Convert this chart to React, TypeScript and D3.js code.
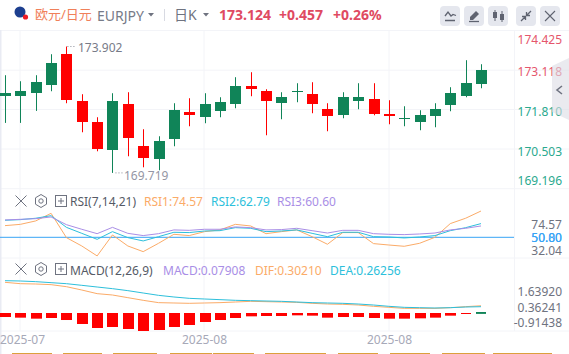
import React from "react";
import * as d3 from "d3";

const opens = [172.257,172.257,172.356,172.621,173.647,172.091,171.396,170.468,171.991,170.601,170.170,170.833,171.727,171.561,171.760,171.992,172.588,172.422,172.025,172.389,172.323,171.826,171.627,172.091,172.157,171.660,171.495,171.396,171.594,171.959,172.257,172.654];
const closes = [172.356,172.422,172.720,173.349,172.124,171.396,170.502,172.091,170.866,170.203,170.766,171.793,171.627,171.992,172.058,172.588,172.488,172.091,172.223,172.422,171.992,171.594,172.223,172.223,171.660,171.594,171.528,171.627,171.826,172.356,172.687,173.124];
const highs = [172.952,172.753,172.952,173.647,173.902,172.323,171.561,172.356,172.389,171.164,170.932,172.025,172.190,172.356,172.223,172.886,173.051,172.488,172.389,172.687,172.720,172.025,172.389,172.687,172.687,172.124,171.925,171.793,172.025,172.555,173.449,173.316];
const lows = [171.374,171.374,171.771,172.422,172.025,171.064,170.435,169.719,170.270,169.905,169.806,170.601,171.263,171.363,171.561,171.859,172.257,170.965,171.495,172.058,171.694,171.098,171.528,171.826,171.627,171.329,171.263,171.131,171.230,171.760,172.223,172.521];
const rsi1 = [60.9,62.1,65.3,72.4,49.7,41.9,32.6,52.2,41.9,36.6,44.4,52.8,51.6,55.3,56.9,62.1,60.6,53.4,55.3,56.9,50.6,43.5,54.4,54.4,44.1,42.8,41.6,44.4,50,62.8,67.8,74.57];
const rsi2 = [65.9,66.5,67.8,70.2,59.3,53.7,48.1,55.3,49.7,46.6,50.6,54.7,54.4,55.9,56.2,59.0,58.4,55.3,55.9,56.9,53.7,50.6,54.7,54.7,50.6,50.3,49.4,50.3,51.6,56.2,59.0,62.79];
const rsi3 = [66.2,66.8,67.4,69.0,61.8,57.5,53.4,59.3,53.7,51.6,53.4,56.9,56.5,57.5,57.5,59.7,59.0,56.9,57.2,58.4,56.2,54.0,56.5,56.5,53.4,52.8,52.5,53.1,54.0,56.9,58.4,60.6];
const macdHist = [-.167,-.194,-.236,-.208,-.292,-.458,-.625,-.583,-.667,-.75,-.708,-.583,-.5,-.375,-.292,-.208,-.139,-.125,-.125,-.097,-.111,-.194,-.167,-.167,-.208,-.236,-.236,-.222,-.194,-.111,-.028,.07908];
const dea = [1.347,1.333,1.306,1.264,1.222,1.153,1.083,1.014,.931,.833,.736,.667,.611,.583,.556,.528,.514,.5,.486,.458,.431,.417,.403,.375,.333,.278,.236,.222,.208,.222,.25,.26256];
const dif = [1.278,1.222,1.208,1.181,1.097,.958,.806,.75,.639,.528,.431,.417,.403,.417,.431,.458,.486,.472,.458,.444,.403,.375,.361,.333,.278,.236,.194,.194,.194,.222,.264,.3021];

const priceTicks = ["174.425","173.118","171.810","170.503","169.196"];
const rsiTicks = ["74.57","50.80","50.00","32.04"];
const macdTicks = ["1.63920","0.36241","-0.91438"];
const dateLabels = ["2025-07","2025-08","2025-08"];

const FONT = `"Noto Sans","Noto Sans CJK SC",sans-serif`;
const UP = "#108458", DOWN = "#ff0000", GRID = "#f3f4f8";
const ORANGE = "#fbab68", CYAN = "#2dbfdb", PURPLE = "#a98ee6", BLUE = "#38a4f6";

const x = d3.scaleLinear().domain([0, 31]).range([5, 481]);
const yP = d3.scaleLinear().domain([169.196, 173.118]).range([188.7, 70.2]);
const yR = d3.scaleLinear().domain([50, 74.57]).range([237.3, 211]);
const yM = d3.scaleLinear().domain([0, 1]).range([313, 289]);
const idx = d3.range(32);
const lineOf = (vals: number[], y: d3.ScaleLinear<number, number>) =>
  d3.line<number>().x((_, i) => x(i)).y((v) => y(v))(vals) || "";

const Btn = ({ bx, children }: { bx: number; children: React.ReactNode }) => (
  <g transform={`translate(${bx},6)`}>
    <rect width={20} height={20} rx={4} fill="#e5e7ee" />
    {children}
  </g>
);

const PaneIcons = ({ cy }: { cy: number }) => (
  <g fill="none" stroke="#6f7380" strokeWidth={1}>
    <path d={`M15.5 ${cy - 5.5}L26.5 ${cy + 5.5}M26.5 ${cy - 5.5}L15.5 ${cy + 5.5}`} />
    <path d={`M41 ${cy - 6.5}L46.5 ${cy - 3.2}V${cy + 3.2}L41 ${cy + 6.5}L35.5 ${cy + 3.2}V${cy - 3.2}Z`} />
    <circle cx={41} cy={cy} r={2.2} />
    <rect x={55.5} y={cy - 5.5} width={11} height={11} />
    <path d={`M58 ${cy}H64M61 ${cy - 3}V${cy + 3}`} />
  </g>
);

const strips = [[12,52],[63,102],[113,157],[170,212],[213,254],[265,326],[338,378],[390,430],[442,485],[493,552]];

export default function App() {
  const priceY = [39, 71.5, 111.5, 151.5, 180];
  const priceC = ["#e5566c", "#e5566c", "#2aa98e", "#2aa98e", "#2aa98e"];
  return (
    <svg width={569} height={354} style={{ position: "absolute", left: 0, top: 0, background: "#fff", fontFamily: FONT }}>
      {/* grid */}
      <g stroke={GRID} strokeWidth={1}>
        {[30.5, 70.2, 109.5, 149, 188.7, 258, 331].map((g) => (
          <line key={g} x1={0} x2={569} y1={g} y2={g} />
        ))}
        {[20, 204, 389].map((g) => (
          <line key={g} x1={g} x2={g} y1={30} y2={331} />
        ))}
        <line x1={514.5} x2={514.5} y1={30} y2={331} />
      </g>
      <rect x={0} y={30} width={1.5} height={324} fill="#e9ebf3" />

      {/* candles */}
      {idx.map((i) => {
        const up = closes[i] >= opens[i];
        const c = up ? UP : DOWN;
        const top = Math.round(yP(Math.max(opens[i], closes[i])));
        const bot = Math.round(yP(Math.min(opens[i], closes[i])));
        const cx = Math.round(x(i));
        return (
          <g key={i} fill={c}>
            <rect x={cx} y={yP(highs[i])} width={1} height={yP(lows[i]) - yP(highs[i])} />
            <rect x={cx - 5} y={top} width={11} height={Math.max(1, bot - top)} />
          </g>
        );
      })}
      <path d={`M${x(4) + 1} ${yP(173.902)}H76`} stroke="#8a8d99" strokeDasharray="1 2" />
      <text x={78} y={47} dominantBaseline="central" fontSize={12} fill="#777b88">173.902</text>
      <path d={`M${x(7) + 3} ${yP(169.719)}H123`} stroke="#8a8d99" strokeDasharray="1 2" />
      <text x={124} y={175} dominantBaseline="central" fontSize={12} fill="#9496a4">169.719</text>

      {/* RSI */}
      <line x1={0} x2={514} y1={yR(50)} y2={yR(50)} stroke={BLUE} strokeWidth={1} />
      <path d={lineOf(rsi1, yR)} fill="none" stroke={ORANGE} />
      <path d={lineOf(rsi2, yR)} fill="none" stroke={CYAN} />
      <path d={lineOf(rsi3, yR)} fill="none" stroke={PURPLE} />

      {/* MACD */}
      {idx.map((i) => {
        const v = macdHist[i];
        const y0 = yM(0), y1 = yM(v);
        const cx = Math.round(x(i));
        return (
          <rect key={i} x={cx - 5} y={v > 0 ? y0 - 1 : y0} width={v > 0 || i === 30 ? 10 : 11}
            height={Math.max(1, Math.abs(y1 - y0))} fill={v > 0 ? UP : DOWN} />
        );
      })}
      <path d={lineOf(dif, yM)} fill="none" stroke={ORANGE} />
      <path d={lineOf(dea, yM)} fill="none" stroke={CYAN} />

      {/* axis labels */}
      <g fontSize={12} textAnchor="end" dominantBaseline="central">
        {priceTicks.map((t, i) => (
          <text key={t} x={562} y={priceY[i]} fill={priceC[i]}>{t}</text>
        ))}
        <text x={562} y={224} fill="#6f7380">{rsiTicks[0]}</text>
        <text x={562} y={237.5} fill={BLUE}>{rsiTicks[1]}</text>
        <text x={562} y={237.5} fill={BLUE}>{rsiTicks[2]}</text>
        <text x={562} y={250} fill="#6f7380">{rsiTicks[3]}</text>
        {macdTicks.map((t, i) => (
          <text key={t} x={562} y={[291.7, 307.3, 322.7][i]} fill="#6f7380">{t}</text>
        ))}
      </g>
      <g fontSize={12} fill="#a7a9b8" dominantBaseline="central">
        {dateLabels.map((t, i) => (
          <text key={i} x={[0, 182, 367][i]} y={339}>{t}</text>
        ))}
      </g>

      {/* side handle */}
      <path d="M569 58L552 66V112L569 120Z" fill="#dcdce4" opacity={0.6} />
      <path d="M562 86L557 90L562 94" fill="none" stroke="#6f7380" strokeWidth={1.6} />

      {/* pane headers */}
      <PaneIcons cy={201} />
      <g fontSize={12} dominantBaseline="central">
        <text x={70} y={201.5} fill="#555a66">RSI(7,14,21)</text>
        <text x={144} y={201.5} fill={ORANGE}>RSI1:74.57</text>
        <text x={211} y={201.5} fill={CYAN}>RSI2:62.79</text>
        <text x={277} y={201.5} fill={PURPLE}>RSI3:60.60</text>
      </g>
      <PaneIcons cy={269} />
      <g fontSize={12} dominantBaseline="central">
        <text x={70} y={270} fill="#555a66">MACD(12,26,9)</text>
        <text x={163} y={270} fill={PURPLE}>MACD:0.07908</text>
        <text x={255} y={270} fill={ORANGE}>DIF:0.30210</text>
        <text x={330} y={270} fill={CYAN}>DEA:0.26256</text>
      </g>

      {/* header */}
      <circle cx={20} cy={12} r={5.5} fill="#1d3f8f" />
      <circle cx={25.5} cy={17} r={2.6} fill="#ee1c25" />
      <g dominantBaseline="central">
        <text x={35} y={14} fontSize={13} fill="#f0805a">欧元/日元</text>
        <text x={97} y={15} fontSize={14} fill="#777b88">EURJPY</text>
        <path d="M148 13h6l-3 3.5z" fill="#6f7380" />
        <line x1={164.5} x2={164.5} y1={9} y2={21} stroke="#d8dae2" />
        <text x={174} y={14} fontSize={14} fill="#6f7380">日K</text>
        <path d="M203 13h6l-3 3.5z" fill="#6f7380" />
        <text x={219} y={14} fontSize={14} fontWeight={700} fill="#df4a61">173.124</text>
        <text x={279} y={14} fontSize={14} fontWeight={700} fill="#df4a61">+0.457</text>
        <text x={333} y={14} fontSize={14} fontWeight={700} fill="#df4a61">+0.26%</text>
      </g>
      <Btn bx={440}>
        <path d="M5 10L8 6L11 10L13 8.5L16 9.5M5 14.5H15" fill="none" stroke="#5f6370" strokeWidth={1.3} />
      </Btn>
      <Btn bx={464}>
        <path d="M6 11L12 5L15 8L9 14H6Z" fill="#5f6370" />
        <path d="M5 15.5H15" stroke="#5f6370" strokeWidth={1.3} />
      </Btn>
      <Btn bx={488}>
        <path d="M7 4V15M14 5V16" stroke="#5f6370" />
        <rect x={5} y={6} width={4} height={6} fill="#5f6370" />
        <rect x={12} y={8} width={4} height={6} fill="#5f6370" />
      </Btn>
      <Btn bx={516}>
        <path d="M5 15L9 11M15 5L11 9M6 10.5H9.5V14M14 9.5H10.5V6" fill="none" stroke="#5f6370" strokeWidth={1.3} />
      </Btn>
      <Btn bx={540}>
        <path d="M5 5L15 15M15 5L5 15" stroke="#5f6370" strokeWidth={1.1} />
      </Btn>

      {strips.map(([a, b]) => (
        <rect key={a} x={a} y={353} width={b - a} height={1} fill="#dca03c" />
      ))}
    </svg>
  );
}
